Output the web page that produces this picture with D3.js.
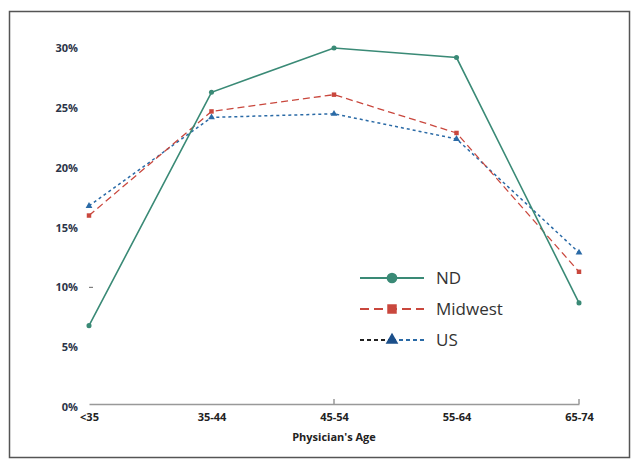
<!DOCTYPE html>
<html>
<head>
<meta charset="utf-8">
<script src="https://cdn.jsdelivr.net/npm/d3@7"></script>
<style>
  body { margin: 0; background: #fff; }
  .tick text { font-family: "Open Sans", "Liberation Sans", sans-serif; }
</style>
</head>
<body>
<div class="chart"></div>
<script>
// age groups and shares (%)
var ageGroups = ["<35", "35-44", "45-54", "55-64", "65-74"];
var ndValues = [6.8, 26.3, 30.0, 29.2, 8.7];
var midwestValues = [16.0, 24.7, 26.1, 22.9, 11.3];
var usValues = [16.8, 24.2, 24.5, 22.4, 12.9];
var yTicks = [0, 5, 10, 15, 20, 25, 30];

var svgWidth = 632;
var svgHeight = 461;

var margin = { top: 48, right: 53, bottom: 54, left: 89 };
var width = svgWidth - margin.left - margin.right;
var height = svgHeight - margin.top - margin.bottom;

var svg = d3.select(".chart")
  .append("svg")
  .attr("width", svgWidth)
  .attr("height", svgHeight);

// outer frame
svg.append("rect")
  .attr("x", 9.5)
  .attr("y", 11.5)
  .attr("width", 620)
  .attr("height", 446)
  .attr("fill", "none")
  .attr("stroke", "#555")
  .attr("stroke-width", 1.5);

var chart = svg.append("g")
  .attr("transform", "translate(" + margin.left + "," + margin.top + ")");

var xScale = d3.scalePoint()
  .domain(ageGroups)
  .range([0, width]);

var yScale = d3.scaleLinear()
  .domain([0, 30])
  .range([height, 0]);

// y axis labels only
var leftAxis = d3.axisLeft(yScale)
  .tickValues(yTicks)
  .tickSize(0)
  .tickPadding(11)
  .tickFormat(function (d) { return d + "%"; });

var yAxis = chart.append("g").call(leftAxis);
yAxis.select(".domain").remove();
yAxis.selectAll("text")
  .attr("fill", "#2b3448")
  .attr("font-size", "11px")
  .attr("font-weight", "bold");

// faint tick at 10%
chart.append("line")
  .attr("x1", 0).attr("x2", 4)
  .attr("y1", yScale(10)).attr("y2", yScale(10))
  .attr("stroke", "#666");

// x axis
var bottomAxis = d3.axisBottom(xScale)
  .tickSize(0)
  .tickPadding(9);

var xAxis = chart.append("g")
  .attr("transform", "translate(0," + (height - 3) + ")")
  .call(bottomAxis);
xAxis.select(".domain")
  .attr("stroke", "#999")
  .attr("stroke-width", 1.5);
xAxis.selectAll("text")
  .attr("fill", "#222")
  .attr("font-size", "11px")
  .attr("font-weight", "bold");

// small up ticks at 45-54 and 65-74
["45-54", "65-74"].forEach(function (g) {
  chart.append("line")
    .attr("x1", xScale(g)).attr("x2", xScale(g))
    .attr("y1", height - 3).attr("y2", height - 8)
    .attr("stroke", "#999")
    .attr("stroke-width", 1.5);
});

chart.append("text")
  .attr("x", width / 2)
  .attr("y", height + 34)
  .attr("text-anchor", "middle")
  .attr("font-family", "Open Sans, Liberation Sans, sans-serif")
  .attr("font-size", "11px")
  .attr("font-weight", "bold")
  .attr("fill", "#222")
  .text("Physician's Age");

var series = [
  { name: "ND", values: ndValues, color: "#3a8a76", dash: null, marker: d3.symbolCircle, width: 1.6 },
  { name: "Midwest", values: midwestValues, color: "#c9473d", dash: "7,4", marker: d3.symbolSquare, width: 1.3 },
  { name: "US", values: usValues, color: "#2a6aa6", dash: "3,3", marker: d3.symbolTriangle, width: 1.5 }
];

var line = d3.line()
  .x(function (d, i) { return xScale(ageGroups[i]); })
  .y(function (d) { return yScale(d); });

// draw US first so ND is on top
series.slice().reverse().forEach(function (s) {
  chart.append("path")
    .datum(s.values)
    .attr("d", line)
    .attr("fill", "none")
    .attr("stroke", s.color)
    .attr("stroke-width", s.width)
    .attr("stroke-dasharray", s.dash);

  chart.selectAll(".pt-" + s.name)
    .data(s.values)
    .enter().append("path")
    .attr("class", "pt-" + s.name)
    .attr("transform", function (d, i) {
      return "translate(" + xScale(ageGroups[i]) + "," + yScale(d) + ")";
    })
    .attr("d", d3.symbol().type(s.marker).size(20))
    .attr("fill", s.color);
});

// legend
var legend = svg.append("g")
  .attr("transform", "translate(360,278)");

series.forEach(function (s, i) {
  var row = legend.append("g")
    .attr("transform", "translate(0," + (i * 31) + ")");
  if (s.name === "US") {
    row.append("line")
      .attr("x1", 0).attr("x2", 32)
      .attr("stroke", "#222").attr("stroke-width", 2)
      .attr("stroke-dasharray", "4,3");
    row.append("line")
      .attr("x1", 32).attr("x2", 64)
      .attr("stroke", s.color).attr("stroke-width", 2)
      .attr("stroke-dasharray", "4,3");
  } else {
    row.append("line")
      .attr("x1", 0).attr("x2", 64)
      .attr("stroke", s.color)
      .attr("stroke-width", 2)
      .attr("stroke-dasharray", s.name === "Midwest" ? "9,5" : null);
  }
  row.append("path")
    .attr("transform", "translate(32,0)")
    .attr("d", d3.symbol().type(s.marker).size(s.name === "US" ? 70 : 90))
    .attr("fill", s.name === "US" ? "#1b4f8a" : s.color);
  row.append("text")
    .attr("x", 76)
    .attr("y", 6)
    .attr("font-family", "Open Sans, Liberation Sans, sans-serif")
    .attr("font-size", "17px")
    .attr("fill", "#333")
    .text(s.name);
});
</script>
</body>
</html>
